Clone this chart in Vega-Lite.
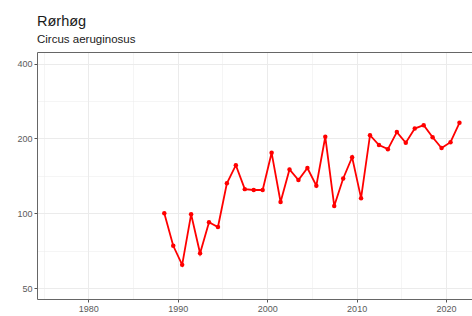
{
  "$schema": "https://vega.github.io/schema/vega-lite/v6.json",
  "autosize": {"type": "none"},
  "padding": {"left": 37, "top": 52, "right": 0, "bottom": 16},
  "width": 435,
  "height": 247,
  "background": "white",
  "title": {
    "text": "Rørhøg",
    "subtitle": "Circus aeruginosus",
    "anchor": "start",
    "frame": "group",
    "font": "Liberation Sans",
    "subtitleFont": "Liberation Sans",
    "fontSize": 14.5,
    "fontWeight": "normal",
    "subtitleFontSize": 11.5,
    "color": "#1A1A1A",
    "subtitleColor": "#1A1A1A",
    "offset": 6,
    "subtitlePadding": 4
  },
  "config": {
    "view": {"stroke": null},
    "axis": {
      "labelFont": "Liberation Sans",
      "labelFontSize": 9,
      "labelColor": "#5A5A5A",
      "tickColor": "#555555",
      "domainColor": "#666666",
      "tickSize": 3,
      "labelPadding": 2,
      "gridColor": "#EBEBEB",
      "title": null
    }
  },
  "data": {
    "values": [
      {"date": "1988-07-01", "value": 100},
      {"date": "1989-07-01", "value": 74},
      {"date": "1990-07-01", "value": 62},
      {"date": "1991-07-01", "value": 99},
      {"date": "1992-07-01", "value": 69},
      {"date": "1993-07-01", "value": 92},
      {"date": "1994-07-01", "value": 88},
      {"date": "1995-07-01", "value": 132},
      {"date": "1996-07-01", "value": 156},
      {"date": "1997-07-01", "value": 125},
      {"date": "1998-07-01", "value": 124},
      {"date": "1999-07-01", "value": 124},
      {"date": "2000-07-01", "value": 175},
      {"date": "2001-07-01", "value": 111},
      {"date": "2002-07-01", "value": 150},
      {"date": "2003-07-01", "value": 136},
      {"date": "2004-07-01", "value": 152},
      {"date": "2005-07-01", "value": 129},
      {"date": "2006-07-01", "value": 203},
      {"date": "2007-07-01", "value": 107},
      {"date": "2008-07-01", "value": 138},
      {"date": "2009-07-01", "value": 168},
      {"date": "2010-07-01", "value": 115},
      {"date": "2011-07-01", "value": 206},
      {"date": "2012-07-01", "value": 188},
      {"date": "2013-07-01", "value": 181},
      {"date": "2014-07-01", "value": 212},
      {"date": "2015-07-01", "value": 192},
      {"date": "2016-07-01", "value": 219},
      {"date": "2017-07-01", "value": 226},
      {"date": "2018-07-01", "value": 202},
      {"date": "2019-07-01", "value": 183},
      {"date": "2020-07-01", "value": 193},
      {"date": "2021-07-01", "value": 231}
    ]
  },
  "encoding": {
    "y": {
      "field": "value",
      "type": "quantitative",
      "scale": {"type": "log", "domain": [45.2, 445], "nice": false, "zero": false},
      "axis": {
        "values": [50, 70.71, 100, 141.42, 200, 282.84, 400],
        "labelExpr": "indexof([50,100,200,400], datum.value) >= 0 ? '' + datum.value : ''",
        "gridWidth": {"condition": {"test": "indexof([50,100,200,400], datum.value) >= 0", "value": 1}, "value": 0.5},
        "tickOpacity": {"condition": {"test": "indexof([50,100,200,400], datum.value) >= 0", "value": 1}, "value": 0}
      }
    }
  },
  "layer": [
    {
      "mark": {"type": "line", "color": "#FF0000", "strokeWidth": 1.8},
      "encoding": {
        "x": {
          "field": "date",
          "type": "temporal",
          "scale": {
            "type": "utc",
            "domain": [
              {"year": 1974, "month": "Apr", "date": 8, "utc": true},
              {"year": 2022, "month": "Nov", "date": 25, "utc": true}
            ],
            "nice": false
          },
          "axis": {
            "orient": "bottom",
            "values": [
              {"year": 1975, "utc": true},
              {"year": 1980, "utc": true},
              {"year": 1985, "utc": true},
              {"year": 1990, "utc": true},
              {"year": 1995, "utc": true},
              {"year": 2000, "utc": true},
              {"year": 2005, "utc": true},
              {"year": 2010, "utc": true},
              {"year": 2015, "utc": true},
              {"year": 2020, "utc": true}
            ],
            "labelExpr": "utcyear(datum.value) % 10 === 0 ? utcFormat(datum.value, '%Y') : ''",
            "gridWidth": {"condition": {"test": "utcyear(datum.value) % 10 === 0", "value": 1}, "value": 0.5},
            "tickOpacity": {"condition": {"test": "utcyear(datum.value) % 10 === 0", "value": 1}, "value": 0}
          }
        }
      }
    },
    {
      "mark": {"type": "point", "filled": true, "color": "#FF0000", "size": 20, "opacity": 1},
      "encoding": {
        "x": {
          "field": "date",
          "type": "temporal",
          "axis": {"orient": "top", "labels": false, "ticks": false, "grid": false}
        }
      }
    }
  ],
  "resolve": {"axis": {"x": "independent"}}
}
